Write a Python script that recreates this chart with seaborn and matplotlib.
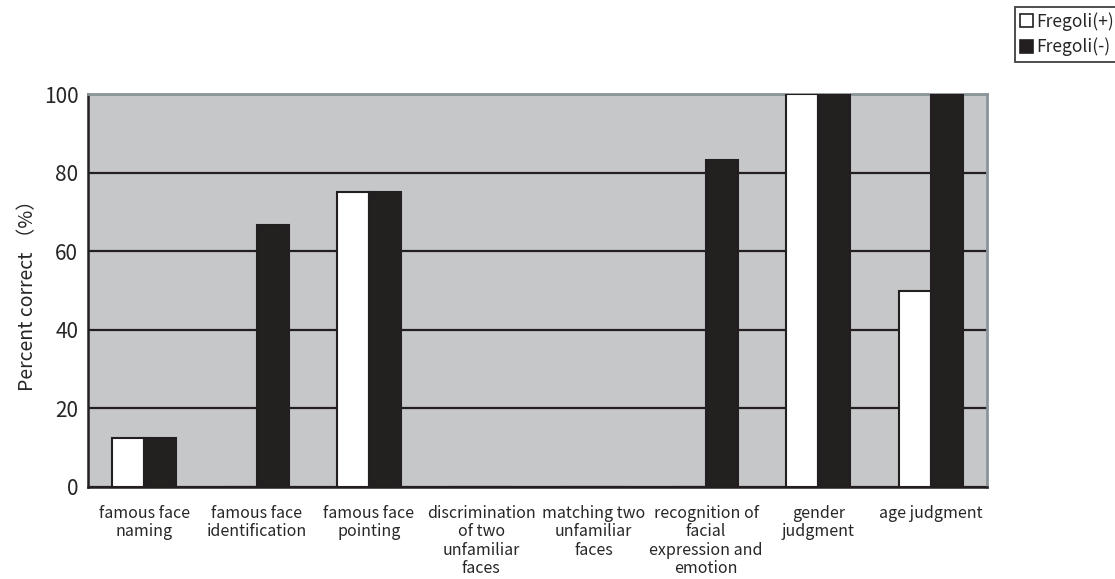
import matplotlib
matplotlib.use("Agg")
import matplotlib.pyplot as plt
from matplotlib.patches import Patch
import seaborn as sns
import pandas as pd
import numpy as np

# Task labels (wrapped as printed under each group)
categories = [
    "famous face\nnaming",
    "famous face\nidentification",
    "famous face\npointing",
    "discrimination\nof two\nunfamiliar\nfaces",
    "matching two\nunfamiliar\nfaces",
    "recognition of\nfacial\nexpression and\nemotion",
    "gender\njudgment",
    "age judgment",
]
groups = ["Fregoli(+)", "Fregoli(-)"]
fregoli_pos = [12.5, 0, 75, 0, 0, 0, 100, 50]
fregoli_neg = [12.5, 66.7, 75, 0, 0, 83.3, 100, 100]
y_ticks = [0, 20, 40, 60, 80, 100]

df = pd.DataFrame({
    "task": categories * 2,
    "group": [groups[0]] * len(categories) + [groups[1]] * len(categories),
    "score": fregoli_pos + fregoli_neg,
})

sns.set_style("white")
plt.rcParams["font.family"] = ["Noto Sans CJK JP", "DejaVu Sans"]

fig = plt.figure(figsize=(11.15, 5.79), dpi=100)
ax = fig.add_axes([0.0789, 0.1594, 0.8063, 0.6776])

bar_colors = {"Fregoli(+)": "#ffffff", "Fregoli(-)": "#231f20"}
sns.barplot(data=df, x="task", y="score", hue="group", order=categories,
            hue_order=groups, palette=bar_colors, width=0.57, gap=0,
            edgecolor="#231f20", linewidth=1.5, legend=False, ax=ax, zorder=3)

ax.set_facecolor("#c6c7c9")
ax.set_ylim(0, 100)
ax.set_xlim(-0.5, len(categories) - 0.5)
ax.set_yticks(y_ticks)
ax.yaxis.grid(True, color="#231f20", linewidth=1.6, zorder=1)
ax.set_axisbelow(True)

ax.set_xlabel("")
ax.set_ylabel("Percent correct （%）", fontsize=14, labelpad=4)
ax.tick_params(axis="y", labelsize=15, direction="in", length=4, width=1.5,
               color="#231f20", pad=7)
ax.tick_params(axis="x", which="major", labelsize=11.5, length=0, pad=13)
ax.set_xticks(np.arange(len(categories)) + 0.5, minor=True)
ax.tick_params(axis="x", which="minor", direction="in", length=5, width=1.5,
               color="#231f20")
for lbl in ax.get_xticklabels():
    lbl.set_multialignment("center")
    lbl.set_verticalalignment("top")
    lbl.set_linespacing(1.12)

for side in ("left", "bottom"):
    ax.spines[side].set_color("#231f20")
    ax.spines[side].set_linewidth(1.8)
for side in ("top", "right"):
    ax.spines[side].set_visible(True)
    ax.spines[side].set_color("#8a9499")
    ax.spines[side].set_linewidth(2.0)

handles = [Patch(facecolor=bar_colors[g], edgecolor="#231f20", linewidth=1.2,
                 label=g) for g in groups]
leg = fig.legend(handles=handles, loc="upper right", bbox_to_anchor=(1.004, 0.988),
                 frameon=True, fancybox=False, fontsize=12.5, handlelength=0.75,
                 handleheight=0.75, handletextpad=0.2, borderpad=0.3,
                 labelspacing=0.4, borderaxespad=0.0)
leg.get_frame().set_edgecolor("#231f20")
leg.get_frame().set_linewidth(1.4)

fig.savefig("out.png", dpi=100, facecolor="white")
